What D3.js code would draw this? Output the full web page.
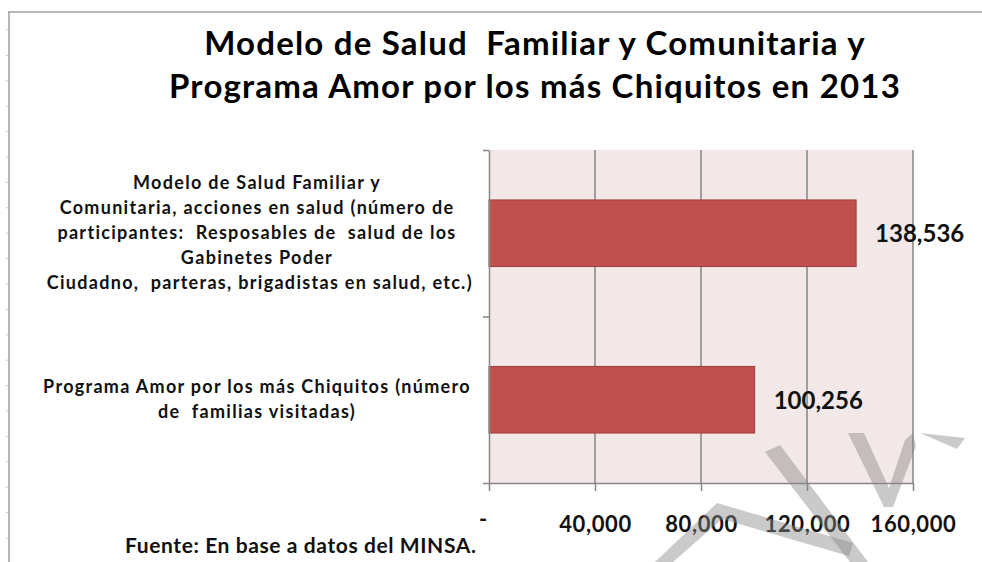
<!DOCTYPE html>
<html>
<head>
<meta charset="utf-8">
<script src="https://cdn.jsdelivr.net/npm/d3@7"></script>
<style>
  body { margin: 0; background: #fff; }
  svg { display: block; font-family: Lato, "Open Sans", sans-serif; }
</style>
</head>
<body>
<svg id="chart" width="982" height="562"></svg>
<script>
// datos
const categories = ["Modelo", "Programa"]
const labelLines = [
  ["Modelo de Salud Familiar y",
   "Comunitaria, acciones en salud (número de",
   "participantes:  Resposables de  salud de los",
   "Gabinetes Poder",
   " Ciudadno,  parteras, brigadistas en salud, etc.)"],
  ["Programa Amor por los más Chiquitos (número",
   "de  familias visitadas)"]
]
const values = [138536, 100256]
const xTicks = [0, 40000, 80000, 120000, 160000]
const titleLines = ["Modelo de Salud  Familiar y Comunitaria y",
                    "Programa Amor por los más Chiquitos en 2013"]
const source = "Fuente: En base a datos del MINSA."

const svg = d3.select("#chart")

// marco del documento
svg.append("line").attr("x1", 8).attr("x2", 982).attr("y1", 12).attr("y2", 12)
   .attr("stroke", "#a0a0a0").attr("stroke-width", 1.5)
svg.append("line").attr("x1", 9).attr("x2", 9).attr("y1", 12).attr("y2", 562)
   .attr("stroke", "#a0a0a0").attr("stroke-width", 1.5)
svg.append("g").selectAll("line")
   .data(d3.range(30, 562, 25.4))
   .enter().append("line")
   .attr("x1", 6).attr("x2", 8)
   .attr("y1", d => d).attr("y2", d => d)
   .attr("stroke", "#c8c8c8")

// titulo
svg.append("g").selectAll("text")
   .data(titleLines)
   .enter().append("text")
   .attr("x", 535)
   .attr("y", (d, i) => 55 + i * 43)
   .attr("text-anchor", "middle")
   .style("font-size", "33px")
   .style("font-weight", "bold")
   .style("letter-spacing", "1.2px")
   .style("fill", "#000")
   .style("white-space", "pre")
   .text(d => d)

// escalas
const xScale = d3.scaleLinear().domain([0, 160000]).range([489, 913])
const yScale = d3.scaleBand().domain(categories).range([150, 483])
                 .paddingInner(0.6).paddingOuter(0.3)

// fondo del area de trazado
svg.append("rect")
   .attr("x", xScale.range()[0]).attr("y", 150)
   .attr("width", xScale.range()[1] - xScale.range()[0])
   .attr("height", 333)
   .style("fill", "#f2e8e8")

// lineas de cuadricula
svg.append("g").selectAll("line")
   .data(xTicks.slice(1))
   .enter().append("line")
   .attr("x1", d => xScale(d)).attr("x2", d => xScale(d))
   .attr("y1", 150).attr("y2", 483)
   .attr("stroke", "#868686").attr("stroke-width", 1.5)

// barras
svg.append("g").selectAll("rect")
   .data(values)
   .enter().append("rect")
   .attr("x", xScale(0))
   .attr("y", (d, i) => yScale(categories[i]))
   .attr("width", d => xScale(d) - xScale(0))
   .attr("height", yScale.bandwidth())
   .style("fill", "#c0504d")
   .style("stroke", "#9e3c3a")
   .style("stroke-width", 1)

// etiquetas de valor
svg.append("g").selectAll("text")
   .data(values)
   .enter().append("text")
   .attr("x", d => xScale(d) + 19)
   .attr("y", (d, i) => yScale(categories[i]) + yScale.bandwidth() / 2 + 9)
   .style("font-size", "24px")
   .style("font-weight", "bold")
   .style("fill", "#111")
   .text(d => d3.format(",")(d))

// eje x
const xAxis = d3.axisBottom(xScale)
                .tickValues(xTicks)
                .tickSize(8)
                .tickSizeOuter(0)
                .tickFormat(d => d === 0 ? "-" : d3.format(",")(d))
const xAxisG = svg.append("g")
   .attr("transform", "translate(0,483)")
   .call(xAxis)
xAxisG.select(".domain").attr("stroke", "#868686").attr("stroke-width", 1.5)
xAxisG.selectAll(".tick line").attr("stroke", "#868686").attr("stroke-width", 1.5)
xAxisG.selectAll(".tick text")
   .attr("y", d => d === 0 ? 44 : 49)
   .attr("dy", 0)
   .attr("dx", d => d === 0 ? -6 : 0)
   .style("font-family", "Lato, sans-serif")
   .style("font-size", "22px")
   .style("font-weight", "bold")
   .style("letter-spacing", "0.6px")
   .style("fill", "#111")

// eje y (marcas en los limites de las categorias)
const yEdge = d3.scaleLinear().domain([0, categories.length]).range([150, 483])
const yAxisG = svg.append("g")
   .attr("transform", "translate(489,0)")
   .call(d3.axisLeft(yEdge).ticks(categories.length).tickSize(6).tickSizeOuter(0).tickFormat(""))
yAxisG.select(".domain").attr("stroke", "#868686").attr("stroke-width", 1.5)
yAxisG.selectAll(".tick line").attr("stroke", "#868686").attr("stroke-width", 1.5)

// etiquetas de categoria
const catG = svg.append("g")
catG.selectAll("text")
   .data(categories)
   .enter().append("text")
   .attr("text-anchor", "middle")
   .style("font-size", "18px")
   .style("font-weight", "bold")
   .style("letter-spacing", "1.3px")
   .style("fill", "#111")
   .style("white-space", "pre")
   .each(function(d, i) {
     const lines = labelLines[i]
     const mid = yScale(d) + yScale.bandwidth() / 2
     const y0 = mid - (lines.length - 1) * 25 / 2 + 6
     d3.select(this).selectAll("tspan")
       .data(lines)
       .enter().append("tspan")
       .attr("x", 257)
       .attr("y", (l, j) => y0 + j * 25)
       .text(l => l)
   })

// fuente
svg.append("text")
   .attr("x", 125).attr("y", 553)
   .style("font-size", "21px")
   .style("font-weight", "bold")
   .style("letter-spacing", "0.6px")
   .style("fill", "#111")
   .text(source)

// marca de agua
const wm = [
  [[655,562],[717,503],[853,543],[849,556],[722,519],[673,562]],
  [[765,452],[780,445],[868,562],[850,562]],
  [[848,433],[864,433],[889,488],[905,440],[913,433],[916,446],[893,507],[884,507]],
  [[920,433],[965,438],[957,449]]
]
svg.append("g").selectAll("path")
   .data(wm)
   .enter().append("path")
   .attr("d", d => "M" + d.join("L") + "Z")
   .style("fill", "#8a8a8a")
   .style("opacity", 0.45)
</script>
</body>
</html>
